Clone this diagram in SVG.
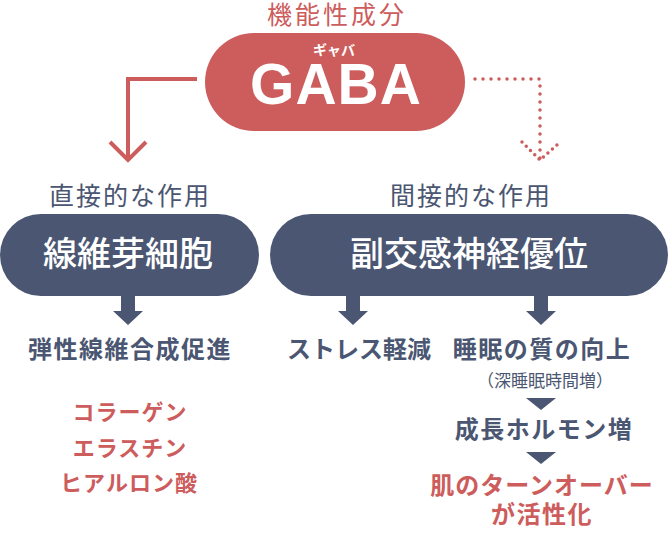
<svg xmlns="http://www.w3.org/2000/svg" width="670" height="555" viewBox="0 0 670 555">
<style>
text{font-family:"Noto Sans CJK JP","Noto Sans",sans-serif;text-anchor:middle}
.red{fill:#cd5c5c}
.navy{fill:#4a5672}
.w{fill:#fff}
.lbl{font-size:25px;font-weight:400;letter-spacing:2px}
.item{font-size:24px;font-weight:700;letter-spacing:1.5px}
.ritem{font-size:22px;font-weight:700;letter-spacing:1px}
.pilltxt{font-size:34px;font-weight:500;fill:#fff}
</style>
<defs>
<path id="blk" d="M-7 0H7V15H15L0 29L-15 15H-7Z" fill="#4a5672"/>
<path id="tri" d="M-15 0H15L0 12Z" fill="#4a5672"/>
</defs>
<rect width="670" height="555" fill="#fff"/>
<g id="gaba">
<text x="337" y="24" class="red" style="font-size:25px;letter-spacing:3px">機能性成分</text>
<rect x="205" y="33" width="260" height="98" rx="49" fill="#cd5c5c"/>
<text x="334" y="55" class="w" style="font-size:14px;font-weight:700">ギャバ</text>
<text x="336" y="104" class="w" style="font-family:'Liberation Sans',Arial,sans-serif;font-size:57px;font-weight:700;letter-spacing:1px">GABA</text>
</g>
<g id="connectors">
<path d="M197 79H128V160M110 142L128 160L146 142" fill="none" stroke="#cd5c5c" stroke-width="4"/>
<path d="M475 79H540V160" fill="none" stroke="#cd5c5c" stroke-width="3.5" stroke-linecap="round" stroke-dasharray="0 8"/>
<path d="M522 142L540 160L557 145" fill="none" stroke="#cd5c5c" stroke-width="3.5" stroke-linecap="round" stroke-dasharray="0 6"/>
<use href="#blk" x="128" y="296"/>
<use href="#blk" x="353" y="296"/>
<use href="#blk" x="541" y="296"/>
<use href="#tri" x="541" y="398"/>
<use href="#tri" x="541" y="452"/>
</g>
<g id="direct">
<text x="130" y="205" class="navy lbl">直接的な作用</text>
<rect x="0" y="214" width="259" height="82" rx="41" fill="#4a5672"/>
<text x="128" y="266" class="pilltxt">線維芽細胞</text>
</g>
<g id="indirect">
<text x="471" y="205" class="navy lbl">間接的な作用</text>
<rect x="270" y="214" width="398" height="82" rx="41" fill="#4a5672"/>
<text x="469" y="266" class="pilltxt">副交感神経優位</text>
</g>
<g id="elastic"><text x="130" y="358" class="navy item">弾性線維合成促進</text></g>
<g id="ingredients">
<text x="130" y="420" class="red ritem">コラーゲン</text>
<text x="130" y="456" class="red ritem">エラスチン</text>
<text x="129" y="491" class="red ritem">ヒアルロン酸</text>
</g>
<g id="stress"><text x="359" y="358" class="navy item" style="letter-spacing:0">ストレス軽減</text></g>
<g id="sleep">
<text x="542" y="358" class="navy item">睡眠の質の向上</text>
<text x="545" y="387" class="navy" style="font-size:17px">（深睡眠時間増）</text>
</g>
<g id="hormone"><text x="544" y="438" class="navy item">成長ホルモン増</text></g>
<g id="turnover">
<text x="542" y="494" class="red item" style="letter-spacing:1px">肌のターンオーバー</text>
<text x="542" y="523" class="red item">が活性化</text>
</g>
</svg>
